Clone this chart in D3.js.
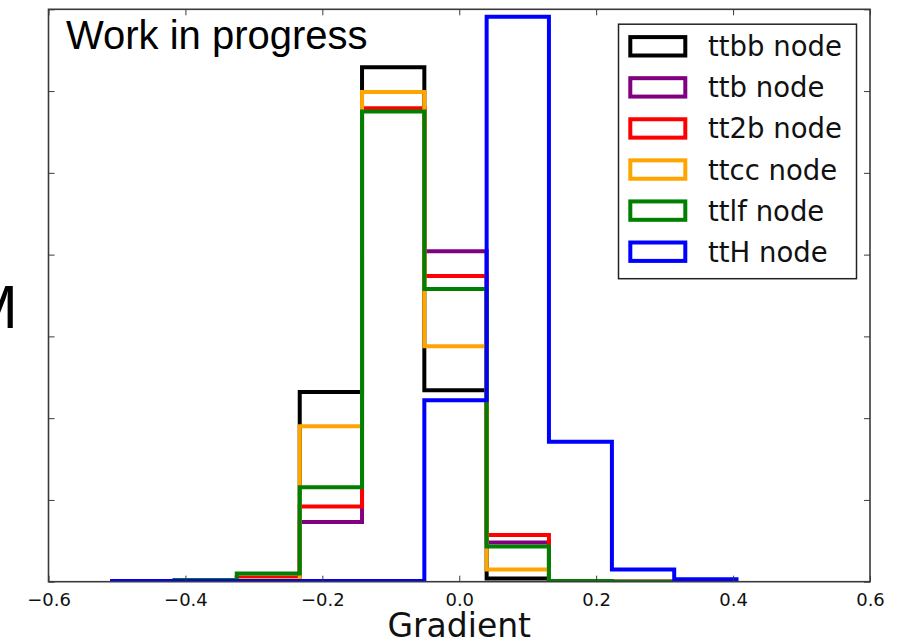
<!DOCTYPE html>
<html>
<head>
<meta charset="utf-8">
<script src="https://cdn.jsdelivr.net/npm/d3@7"></script>
<style>
  html, body { margin: 0; padding: 0; background: #fff; }
  svg { display: block; }
</style>
</head>
<body>
<svg id="chart" width="908" height="642"></svg>
<script>
// Shared histogram bin edges (gradient value)
const binEdges = [-0.507, -0.416, -0.325, -0.233, -0.142, -0.051, 0.040, 0.131, 0.223, 0.314, 0.405];

// Normalised bin contents per output node
const ttbbValues = [0, 0, 0.01, 2.32, 6.29, 2.34, 0.04, 0, 0, 0];
const ttbValues  = [0, 0, 0.01, 0.73, 5.76, 4.04, 0.48, 0, 0, 0];
const tt2bValues = [0, 0, 0.05, 0.92, 5.79, 3.74, 0.57, 0, 0, 0];
const ttccValues = [0, 0, 0.02, 1.90, 5.99, 2.88, 0.15, 0.01, 0, 0];
const ttlfValues = [0.01, 0.02, 0.10, 1.155, 5.75, 3.58, 0.43, 0.01, 0, 0];
const ttHValues  = [0.01, 0.01, 0.01, 0.01, 0.01, 2.22, 6.91, 1.71, 0.15, 0.03];

const seriesNames  = ["ttbb node", "ttb node", "tt2b node", "ttcc node", "ttlf node", "ttH node"];
const seriesColors = ["#000000", "#800080", "#ff0000", "#ffa500", "#008000", "#0000ff"];
const seriesValues = [ttbbValues, ttbValues, tt2bValues, ttccValues, ttlfValues, ttHValues];

const xTicks = [-0.6, -0.4, -0.2, 0.0, 0.2, 0.4, 0.6];
const yTicks = [0, 1, 2, 3, 4, 5, 6, 7];

const svg = d3.select("#chart");
const plot = { left: 48.5, right: 870, top: 9.3, bottom: 581.7 };

const x = d3.scaleLinear().domain([-0.6, 0.6]).range([plot.left, plot.right]);
const y = d3.scaleLinear().domain([0, 7]).range([plot.bottom, plot.top]);

svg.append("defs").append("clipPath").attr("id", "plotClip")
  .append("rect")
  .attr("x", plot.left).attr("y", plot.top)
  .attr("width", plot.right - plot.left).attr("height", plot.bottom - plot.top);

// Step outlines, drawn in legend order so later nodes sit on top
const stepLine = d3.line().x(d => x(d[0])).y(d => y(d[1]));
function stepPoints(values) {
  const pts = [[binEdges[0], 0]];
  values.forEach((v, i) => {
    pts.push([binEdges[i], v]);
    pts.push([binEdges[i + 1], v]);
  });
  pts.push([binEdges[binEdges.length - 1], 0]);
  return pts;
}

const hist = svg.append("g").attr("clip-path", "url(#plotClip)");
seriesValues.forEach((vals, i) => {
  hist.append("path")
    .attr("d", stepLine(stepPoints(vals)))
    .attr("fill", "none")
    .attr("stroke", seriesColors[i])
    .attr("stroke-width", 4)
    .attr("stroke-linejoin", "miter");
});

// Frame and inward ticks
const frameColor = "#3a3a3a";
const fmt = v => {
  const s = Math.abs(v).toFixed(1);
  return v < -1e-9 ? "\u2212" + s : s;
};

const axBottom = d3.axisBottom(x).tickValues(xTicks).tickSize(-6).tickPadding(12).tickFormat(fmt);
const axTop = d3.axisTop(x).tickValues(xTicks).tickSize(-6).tickFormat("");
const axLeft = d3.axisLeft(y).tickValues(yTicks).tickSize(-6).tickFormat("");
const axRight = d3.axisRight(y).tickValues(yTicks).tickSize(-6).tickFormat("");

function styleAxis(g) {
  g.select(".domain").remove();
  g.selectAll(".tick line").attr("stroke", frameColor).attr("stroke-width", 1);
  g.selectAll(".tick text")
    .attr("fill", "#111")
    .style("font-family", "'DejaVu Sans'")
    .style("font-size", "18px");
}

svg.append("g").attr("transform", `translate(0,${plot.bottom})`).call(axBottom).call(styleAxis);
svg.append("g").attr("transform", `translate(0,${plot.top})`).call(axTop).call(styleAxis);
svg.append("g").attr("transform", `translate(${plot.left},0)`).call(axLeft).call(styleAxis);
svg.append("g").attr("transform", `translate(${plot.right},0)`).call(axRight).call(styleAxis);

svg.append("rect")
  .attr("x", plot.left).attr("y", plot.top)
  .attr("width", plot.right - plot.left).attr("height", plot.bottom - plot.top)
  .attr("fill", "none").attr("stroke", frameColor).attr("stroke-width", 1.6);

// Axis label
svg.append("text")
  .attr("x", (plot.left + plot.right) / 2).attr("y", 636.5)
  .attr("text-anchor", "middle")
  .style("font-family", "'DejaVu Sans'").style("font-size", "33px")
  .attr("fill", "#111")
  .text("Gradient");

// Partly visible label at the left edge
svg.append("text")
  .attr("x", 18).attr("y", 328.3)
  .attr("text-anchor", "end")
  .style("font-family", "'Liberation Sans'").style("font-size", "62px")
  .attr("fill", "#000")
  .text("M");

// Status note
svg.append("text")
  .attr("x", 66).attr("y", 49.3)
  .style("font-family", "'Liberation Sans'").style("font-size", "40px")
  .attr("fill", "#000")
  .text("Work in progress");

// Legend
const legend = svg.append("g");
legend.append("rect")
  .attr("x", 618.5).attr("y", 24.2).attr("width", 238).attr("height", 254.5)
  .attr("fill", "#fff").attr("stroke", "#222").attr("stroke-width", 1.5);

const rowY = d3.scaleLinear().domain([0, 5]).range([46.3, 251.7]);
seriesNames.forEach((name, i) => {
  const cy = rowY(i);
  legend.append("rect")
    .attr("x", 630.3).attr("y", cy - 9.2).attr("width", 55).attr("height", 18.4)
    .attr("fill", "none").attr("stroke", seriesColors[i]).attr("stroke-width", 4);
  legend.append("text")
    .attr("x", 708).attr("y", cy + 10)
    .style("font-family", "'DejaVu Sans'").style("font-size", "27.5px")
    .attr("fill", "#111")
    .text(name);
});
</script>
</body>
</html>
